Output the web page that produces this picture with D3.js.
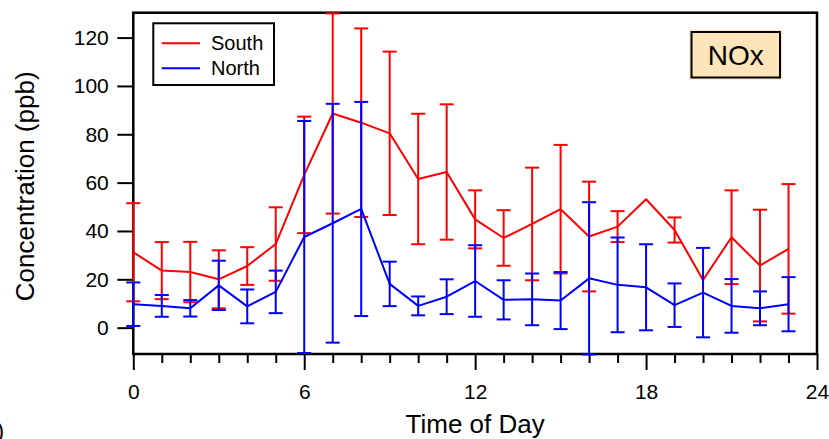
<!DOCTYPE html>
<html>
<head>
<meta charset="utf-8">
<script src="https://cdn.jsdelivr.net/npm/d3@7"></script>
<style>
  html, body { margin: 0; padding: 0; background: #fff; }
  svg { display: block; font-family: "Liberation Sans", Arial, sans-serif; }
</style>
</head>
<body>
<svg id="chart" width="829" height="439"></svg>
<script>
// Hourly mean NOx (ppb) with ±1 SD error bars
const hours = [0, 1, 2, 3, 4, 5, 6, 7, 8, 9, 10, 11, 12, 13, 14, 15, 16, 17, 18, 19, 20, 21, 22, 23];
const southMean = [31.2, 23.6, 23.0, 20.0, 25.5, 34.6, 63.2, 88.6, 84.8, 80.4, 61.5, 64.4, 44.8, 37.1, 42.9, 49.0, 37.7, 41.8, 53.1, 40.4, 19.7, 37.4, 25.7, 32.6];
const southErr  = [20.3, 11.8, 12.5, 12.0, 7.8, 15.2, 24.1, 41.4, 39.0, 33.8, 27.0, 28.0, 12.0, 11.5, 23.3, 26.6, 22.7, 6.4, null, 5.2, null, 19.4, 23.1, 26.8];
const northMean = [9.7, 9.0, 8.0, 17.5, 8.8, 14.8, 37.5, 43.2, 49.1, 18.1, 9.0, 12.8, 19.3, 11.5, 11.7, 11.2, 20.4, 17.7, 16.7, 9.3, 14.5, 9.0, 8.0, 9.7];
const northErr  = [9.0, 4.5, 3.4, 10.2, 7.0, 8.8, 48.0, 49.4, 44.3, 9.2, 3.9, 7.2, 14.8, 8.1, 10.7, 11.8, 31.5, 19.6, 17.8, 9.0, 18.5, 11.1, 7.0, 11.2];
const seriesNames = ["South", "North"];
const seriesColors = ["#ff0000", "#0000ff"];
const xMajorTicks = [0, 6, 12, 18, 24];
const xMinorTicks = [1, 2, 3, 4, 5, 7, 8, 9, 10, 11, 13, 14, 15, 16, 17, 19, 20, 21, 22, 23];
const yTicks = [0, 20, 40, 60, 80, 100, 120];
const panelTag = "NOx";

const svg = d3.select("#chart");
const plot = { left: 133.3, right: 817, top: 12.7, bottom: 354 };

const x = d3.scaleLinear().domain([0, 24]).range([plot.left, plot.right]);
const y = d3.scaleLinear().domain([-10.9, 130.3]).range([plot.bottom, plot.top]);

// Minor hourly ticks on the time axis
svg.append("g")
  .attr("transform", `translate(0,${plot.bottom})`)
  .call(d3.axisBottom(x).tickValues(xMinorTicks).tickSize(9).tickFormat(""))
  .call(g => g.select(".domain").remove())
  .call(g => g.selectAll("line").attr("stroke", "#000").attr("stroke-width", 2));

// Major ticks with labels
svg.append("g")
  .attr("transform", `translate(0,${plot.bottom})`)
  .call(d3.axisBottom(x).tickValues(xMajorTicks).tickSize(16).tickPadding(14).tickFormat(d3.format("d")))
  .call(g => g.select(".domain").remove())
  .call(g => g.selectAll("line").attr("stroke", "#000").attr("stroke-width", 2))
  .call(g => g.selectAll("text").attr("fill", "#000").style("font-size", "21px")
    .style("font-family", "'Liberation Sans', Arial, sans-serif"));

svg.append("g")
  .attr("transform", `translate(${plot.left},0)`)
  .call(d3.axisLeft(y).tickValues(yTicks).tickSize(16).tickPadding(8.5).tickFormat(d3.format("d")))
  .call(g => g.select(".domain").remove())
  .call(g => g.selectAll("line").attr("stroke", "#000").attr("stroke-width", 2))
  .call(g => g.selectAll("text").attr("fill", "#000").style("font-size", "21px")
    .style("font-family", "'Liberation Sans', Arial, sans-serif"));

// Plot frame
svg.append("rect")
  .attr("x", plot.left).attr("y", plot.top)
  .attr("width", plot.right - plot.left).attr("height", plot.bottom - plot.top)
  .attr("fill", "none").attr("stroke", "#000").attr("stroke-width", 2.5);

// Axis titles
svg.append("text")
  .attr("x", (plot.left + plot.right) / 2).attr("y", 433)
  .attr("text-anchor", "middle").style("font-size", "26px")
  .text("Time of Day");

svg.append("text")
  .attr("transform", `translate(34,${(plot.top + plot.bottom) / 2 + 3}) rotate(-90)`)
  .attr("text-anchor", "middle").style("font-size", "26px")
  .text("Concentration (ppb)");

// Series: line plus capped error bars
const series = [
  { name: seriesNames[0], color: seriesColors[0], mean: southMean, err: southErr },
  { name: seriesNames[1], color: seriesColors[1], mean: northMean, err: northErr }
];
const capHalf = 7;

series.forEach(s => {
  const pts = hours.map((h, i) => ({ h, m: s.mean[i], e: s.err[i] }));
  const g = svg.append("g").attr("class", "series");

  g.append("path")
    .datum(pts)
    .attr("fill", "none")
    .attr("stroke", s.color)
    .attr("stroke-width", 2)
    .attr("stroke-linejoin", "round")
    .attr("d", d3.line().x(d => x(d.h)).y(d => y(d.m)));

  const bars = g.selectAll("g.err")
    .data(pts.filter(d => d.e != null))
    .join("g").attr("class", "err")
    .attr("stroke", s.color).attr("stroke-width", 2);

  bars.append("line")
    .attr("x1", d => x(d.h)).attr("x2", d => x(d.h))
    .attr("y1", d => y(d.m - d.e)).attr("y2", d => y(d.m + d.e));
  bars.append("line")
    .attr("x1", d => x(d.h) - capHalf).attr("x2", d => x(d.h) + capHalf)
    .attr("y1", d => y(d.m + d.e)).attr("y2", d => y(d.m + d.e));
  bars.append("line")
    .attr("x1", d => x(d.h) - capHalf).attr("x2", d => x(d.h) + capHalf)
    .attr("y1", d => y(d.m - d.e)).attr("y2", d => y(d.m - d.e));
});

// Legend
const legend = svg.append("g").attr("transform", "translate(153.3,23.3)");
legend.append("rect")
  .attr("width", 120.7).attr("height", 61.7)
  .attr("fill", "#fff").attr("stroke", "#000").attr("stroke-width", 2);
series.forEach((s, i) => {
  legend.append("line")
    .attr("x1", 8.4).attr("x2", 46.7)
    .attr("y1", 20 + i * 25).attr("y2", 20 + i * 25)
    .attr("stroke", s.color).attr("stroke-width", 2);
  legend.append("text")
    .attr("x", 57.7).attr("y", 27 + i * 25)
    .style("font-size", "20px")
    .text(s.name);
});

// Species tag
const tag = svg.append("g").attr("transform", "translate(691.5,32)");
tag.append("rect")
  .attr("width", 88.5).attr("height", 45.5)
  .attr("fill", "none").attr("stroke", "#fdecd0").attr("stroke-width", 5);
tag.append("rect")
  .attr("width", 88.5).attr("height", 45.5)
  .attr("fill", "#fde4b9").attr("stroke", "#000").attr("stroke-width", 2);
tag.append("text")
  .attr("x", 44.25).attr("y", 32.5)
  .attr("text-anchor", "middle").style("font-size", "28px")
  .text(panelTag);

// Panel letter, mostly outside the canvas at the lower left
svg.append("text")
  .attr("x", 4).attr("y", 438)
  .attr("text-anchor", "end").style("font-size", "22px")
  .text("(b)");
</script>
</body>
</html>
